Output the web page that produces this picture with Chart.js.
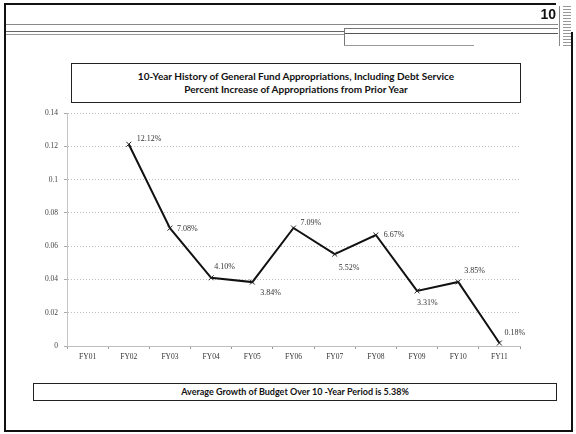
<!DOCTYPE html>
<html>
<head>
<meta charset="utf-8">
<script src="https://cdn.jsdelivr.net/npm/chart.js@4/dist/chart.umd.min.js"></script>
<style>
  html, body { margin: 0; padding: 0; background: #fff; }
  #page { position: relative; width: 576px; height: 434px; overflow: hidden; }
  #chart { position: absolute; left: 0; top: 0; }
  .rule { position: absolute; background: #555; }
  .box { position: absolute; border: 1px solid #222; box-sizing: border-box; background: #fff;
         font-family: Lato, "Open Sans", sans-serif; font-weight: bold; color: #111; text-align: center; }
</style>
</head>
<body>
<div id="page">
  <canvas id="chart" width="576" height="434"></canvas>

  <!-- scanned page frame and header rules -->
  <div class="rule" style="left:4px;top:3px;width:552px;height:2px;background:#111"></div>
  <div class="rule" style="left:4px;top:3px;width:2px;height:429px;background:#111"></div>
  <div class="rule" style="left:4px;top:430px;width:569px;height:2px;background:#111"></div>
  <div class="rule" style="left:571px;top:32px;width:2px;height:400px;background:#111"></div>
  <div class="rule" style="left:559px;top:6px;width:1px;height:40px;background:#888"></div>
  <div class="rule" style="left:563px;top:6px;width:8px;height:40px;background:repeating-linear-gradient(#999 0 1px,#fff 1px 3px)"></div>
  <div class="rule" style="left:6px;top:24px;width:552px;height:1px;background:#888"></div>
  <div class="rule" style="left:6px;top:31px;width:338px;height:1px;background:#666"></div>
  <div class="rule" style="left:6px;top:34px;width:338px;height:1px;background:#999"></div>
  <div class="rule" style="left:344px;top:28px;width:214px;height:1px;background:#777"></div>
  <div class="rule" style="left:344px;top:33px;width:214px;height:1px;background:#555"></div>
  <div class="rule" style="left:344px;top:28px;width:1px;height:18px;background:#777"></div>
  <div class="rule" style="left:344px;top:45px;width:130px;height:1px;background:#999"></div>
  <div style="position:absolute;left:536px;top:6px;width:20px;text-align:right;font:bold 14px 'Liberation Sans',Arial,sans-serif;color:#111;background:#fff">10</div>

  <div class="box" style="left:71px;top:63px;width:450px;height:40px;font-size:10px;line-height:13px;padding-top:6px">
    10-Year History of General Fund Appropriations, Including Debt Service<br>
    Percent Increase of Appropriations from Prior Year
  </div>
  <div class="box" style="left:33px;top:383px;width:524px;height:18px;font-size:9px;line-height:16px">
    Average Growth of Budget Over 10 -Year Period is 5.38%
  </div>
</div>
<script>
  "use strict";

  const CATEGORIES = ["FY01", "FY02", "FY03", "FY04", "FY05", "FY06", "FY07", "FY08", "FY09", "FY10", "FY11"];
  const GROWTH = [null, 0.1212, 0.0708, 0.0410, 0.0384, 0.0709, 0.0552, 0.0667, 0.0331, 0.0385, 0.0018];
  const GROWTH_LABELS = ["", "12.12%", "7.08%", "4.10%", "3.84%", "7.09%", "5.52%", "6.67%", "3.31%", "3.85%", "0.18%"];
  const Y_TICKS = [0, 0.02, 0.04, 0.06, 0.08, 0.1, 0.12, 0.14];

  // where each value label sits relative to its point (px)
  const LABEL_OFFSET = [
    [0, 0], [8, -5], [7, 1], [3, -11], [8, 11], [7, -5],
    [4, 14], [8, 0], [0, 12], [6, -11], [5, -10],
  ];

  const SERIF = "'Liberation Serif', 'DejaVu Serif', serif";
  const GRID_COLOR = "#bdbdbd";

  const pointLabels = {
    id: "pointLabels",
    afterDatasetsDraw(chart) {
      const meta = chart.getDatasetMeta(0);
      const ctx = chart.ctx;
      ctx.save();
      ctx.font = "8px " + SERIF;
      ctx.fillStyle = "#333";
      ctx.textAlign = "left";
      ctx.textBaseline = "middle";
      meta.data.forEach((pt, i) => {
        if (GROWTH[i] === null || !GROWTH_LABELS[i]) return;
        const off = LABEL_OFFSET[i];
        ctx.fillText(GROWTH_LABELS[i], pt.x + off[0], pt.y + off[1]);
      });
      ctx.restore();
    },
  };

  new Chart(document.getElementById("chart"), {
    type: "line",
    data: {
      labels: CATEGORIES,
      datasets: [
        {
          data: GROWTH,
          borderColor: "#111",
          borderWidth: 2,
          tension: 0,
          pointStyle: "crossRot",
          pointRadius: 3.5,
          pointBorderWidth: 1,
          pointBorderColor: "#222",
          pointBackgroundColor: "#222",
          spanGaps: false,
        },
      ],
    },
    options: {
      responsive: false,
      animation: false,
      events: [],
      layout: { padding: { left: 0, top: 113, right: 56, bottom: 68 } },
      plugins: {
        legend: { display: false },
        tooltip: { enabled: false },
      },
      scales: {
        x: {
          offset: true,
          grid: {
            offset: true,
            drawOnChartArea: false,
            drawTicks: true,
            tickLength: 3,
            tickColor: "#999",
          },
          border: { color: GRID_COLOR, width: 1, dash: [1, 2] },
          ticks: {
            padding: 4,
            color: "#333",
            font: { family: SERIF, size: 7.5 },
            maxRotation: 0,
            autoSkip: false,
          },
          afterFit(scale) { scale.height = 20; },
        },
        y: {
          min: 0,
          max: 0.14,
          afterBuildTicks(scale) { scale.ticks = Y_TICKS.map((v) => ({ value: v })); },
          grid: {
            color: GRID_COLOR,
            lineWidth: 1,
            drawTicks: true,
            tickLength: 3,
            tickColor: "#aaa",
          },
          border: { color: "#c4c4c4", width: 1, dash: [1, 2] },
          ticks: {
            padding: 6,
            color: "#444",
            font: { family: SERIF, size: 7.5 },
            callback: (v) => String(Math.round(v * 100) / 100),
          },
          afterFit(scale) { scale.width = 67; },
        },
      },
    },
    plugins: [pointLabels],
  });
</script>
</body>
</html>
